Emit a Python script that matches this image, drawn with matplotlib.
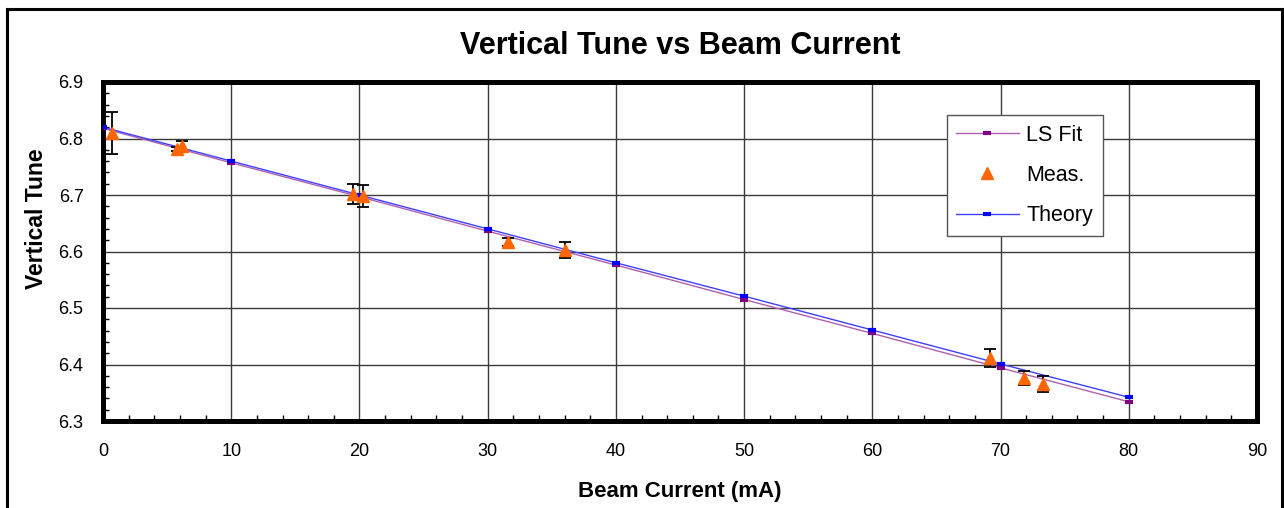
import matplotlib
matplotlib.use("Agg")
import matplotlib.pyplot as plt
from matplotlib.lines import Line2D
from matplotlib.ticker import MultipleLocator

plt.rcParams['font.family'] = ['Liberation Sans', 'DejaVu Sans']

# theory / LS fit curves
x_line = [0, 10, 20, 30, 40, 50, 60, 70, 80]
theory = [6.820, 6.760, 6.700, 6.640, 6.580, 6.521, 6.461, 6.401, 6.342]
ls_fit = [6.818, 6.757, 6.697, 6.636, 6.576, 6.515, 6.455, 6.394, 6.334]

# measurements with error bars
meas_x = [0.7, 5.8, 6.2, 19.5, 20.3, 31.6, 36.0, 69.2, 71.8, 73.3]
meas_y = [6.810, 6.781, 6.786, 6.702, 6.698, 6.617, 6.603, 6.411, 6.376, 6.366]
meas_err = [0.037, 0.004, 0.009, 0.018, 0.020, 0.007, 0.014, 0.016, 0.013, 0.014]

fig = plt.figure(figsize=(12.84, 5.08), dpi=100)
ax = fig.add_axes([103/1284, 1 - 421/508, 1154/1284, 339/508])

ax.plot(x_line, ls_fit, color='#B060B0', lw=1, marker='_', ms=6, mew=3,
        mec='#800080', label='LS Fit', zorder=3)
ax.errorbar(meas_x, meas_y, yerr=meas_err, fmt='none', ecolor='black',
            elinewidth=1.3, capsize=4.3, capthick=1.3, zorder=4)
ax.plot(meas_x, meas_y, ls='none', marker='^', ms=9, color='#FF6600',
        label='Meas.', zorder=5)
ax.plot(x_line, theory, color='#4040FF', lw=1, marker='_', ms=6, mew=3,
        mec='#0000FF', label='Theory', zorder=3)

ax.set_xlim(0, 90)
ax.set_ylim(6.3, 6.9)
ax.xaxis.set_major_locator(MultipleLocator(10))
ax.xaxis.set_minor_locator(MultipleLocator(2))
ax.yaxis.set_major_locator(MultipleLocator(0.1))
ax.yaxis.set_minor_locator(MultipleLocator(0.02))
ax.yaxis.set_major_formatter(plt.FormatStrFormatter('%.1f'))
ax.tick_params(which='both', direction='in', length=4, width=1)
ax.tick_params(which='major', labelsize=13, length=0)
ax.tick_params(axis='y', pad=14)
ax.tick_params(axis='x', pad=16)
ax.grid(True, which='major', color='#3a3a3a', lw=1)
for sp in ax.spines.values():
    sp.set_linewidth(3.6)

ax.set_title('Vertical Tune vs Beam Current', fontsize=22, fontweight='bold', pad=20)
ax.set_xlabel('Beam Current (mA)', fontsize=16, fontweight='bold', labelpad=15)
ax.set_ylabel('Vertical Tune', fontsize=16.5, fontweight='bold')
ax.yaxis.set_label_coords(-0.048, 0.597)

leg = ax.legend(loc='upper left', bbox_to_anchor=(0.731, 0.903), fontsize=15.5,
                frameon=True, fancybox=False, edgecolor='#555555',
                handlelength=2.9, handletextpad=0.35, borderpad=0.45,
                labelspacing=0.9, borderaxespad=0)
leg.get_frame().set_linewidth(1)
leg.get_frame().set_alpha(1)

# outer chart frame
lw = 2.2
fig.add_artist(Line2D([7/1284, 7/1284], [0, 1 - 9/508], color='black', lw=lw))
fig.add_artist(Line2D([1282/1284, 1282/1284], [0, 1 - 9/508], color='black', lw=lw))
fig.add_artist(Line2D([7/1284, 1282/1284], [1 - 9/508, 1 - 9/508], color='black', lw=lw))

fig.savefig('out.png', dpi=100)
